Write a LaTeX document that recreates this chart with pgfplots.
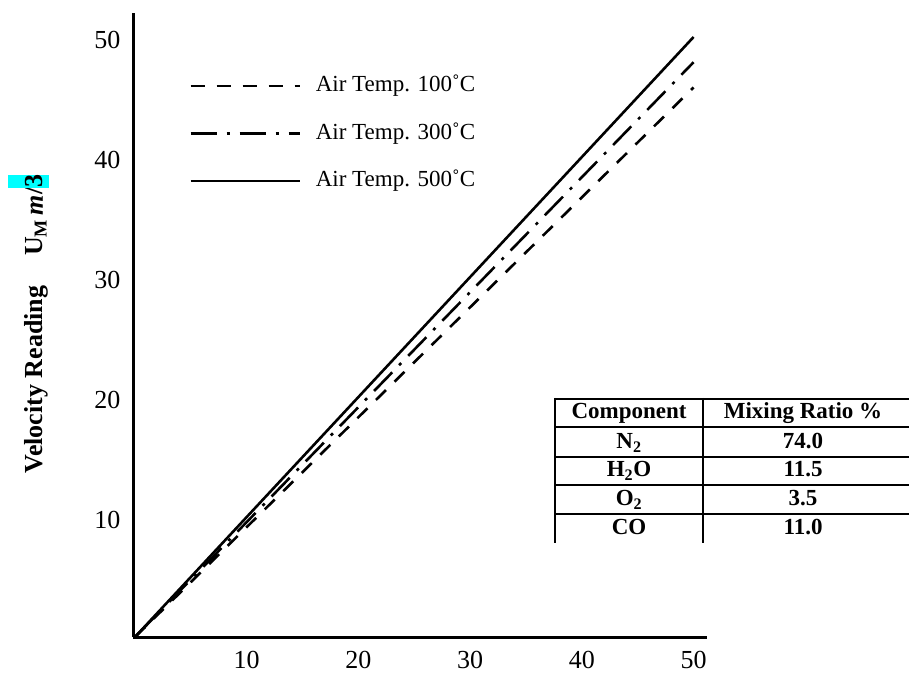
\documentclass[border=0pt]{standalone}
\usepackage{pgfplots}
\pgfplotsset{compat=1.18}
\usepackage{fontspec}
\setmainfont{Liberation Serif}
\definecolor{hl}{RGB}{0,255,255}
\begin{document}
\begin{tikzpicture}[x=1pt,y=1pt]
\useasboundingbox (0,0) rectangle (909,674);
\begin{axis}[
  at={(133pt,37pt)}, anchor=south west,
  scale only axis, width=574pt, height=624pt,
  xmin=-0.18, xmax=51.2, ymin=0, ymax=52.0,
  axis lines=left,
  axis line style={-, line width=3pt},
  xtick={10,20,30,40,50}, ytick={10,20,30,40,50},
  major tick length=0pt,
  tick label style={font=\fontsize{26}{26}\selectfont},
  /pgf/number format/assume math mode=true,
  xticklabel style={yshift=-11pt},
  yticklabel style={xshift=-9pt, yshift=-3pt},
  ylabel={\fontsize{26}{26}\selectfont\bfseries Velocity Reading\hspace{30pt}U\textsubscript{M}\,\textit{m}/{\setlength{\fboxsep}{0pt}\colorbox{hl}{\rule[-6pt]{0pt}{41pt}3}}},
  every axis y label/.style={at={(axis description cs:-0.1568,0.5016)}, rotate=90, anchor=base},
  legend style={at={(axis description cs:0.0976,0.900)}, anchor=north west, draw=none, fill=none,
    font=\fontsize{23}{23}\selectfont, inner sep=0pt, row sep=26.5pt, column sep=15pt,
    nodes={inner sep=0pt, text height=16pt, text depth=5pt}},
  legend cell align=left,
  legend image code/.code={\draw[#1] (0pt,0pt) -- (109pt,0pt);},
]
\addplot[black, line width=2.6pt, dash pattern=on 14pt off 12pt] coordinates {(0,0) (50,45.8)};
\addlegendentry{Air Temp. 100˚C}
\addplot[black, line width=2.6pt, dash pattern=on 26pt off 10pt on 3pt off 10pt] coordinates {(0,0) (50,47.9)};
\addlegendentry{Air Temp. 300˚C}
\addplot[black, line width=2.6pt] coordinates {(0,0) (50,50.0)};
\addlegendentry{Air Temp. 500˚C}
\end{axis}
% composition table
\begin{scope}[line width=2.2pt]
\draw (555,275) -- (909,275);
\draw (555,247) -- (909,247);
\draw (555,217) -- (909,217);
\draw (555,189) -- (909,189);
\draw (555,160) -- (909,160);
\draw (555,276.1) -- (555,131);
\draw (703,276.1) -- (703,131);
\end{scope}
\begin{scope}[every node/.style={inner sep=0pt, anchor=base, font=\fontsize{23}{23}\selectfont\bfseries}]
\node at (629,255) {Component};
\node at (803,255) {Mixing Ratio \%};
\node at (629,225) {N\textsubscript{2}};
\node at (803,225) {74.0};
\node at (629,197) {H\textsubscript{2}O};
\node at (803,197) {11.5};
\node at (629,168) {O\textsubscript{2}};
\node at (803,168) {3.5};
\node at (629,139) {CO};
\node at (803,139) {11.0};
\end{scope}
\end{tikzpicture}
\end{document}
